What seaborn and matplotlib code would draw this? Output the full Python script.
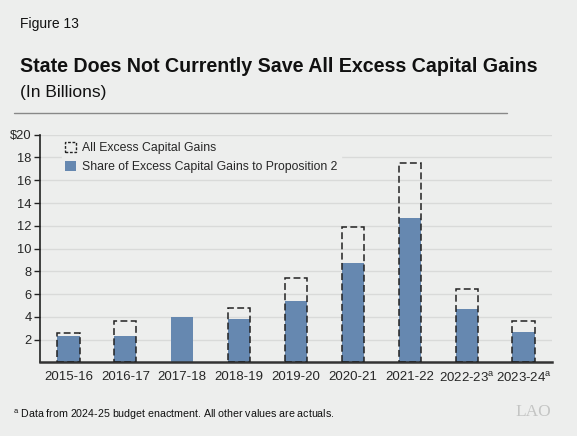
import matplotlib
matplotlib.use("Agg")
import matplotlib.pyplot as plt
import seaborn as sns
import numpy as np
import pandas as pd
from matplotlib.patches import Patch

# values (billions of dollars)
years = ["2015-16", "2016-17", "2017-18", "2018-19", "2019-20",
         "2020-21", "2021-22", "2022-23", "2023-24"]
tick_labels = ["2015-16", "2016-17", "2017-18", "2018-19", "2019-20",
               "2020-21", "2021-22", "2022-23$^{\\mathrm{a}}$", "2023-24$^{\\mathrm{a}}$"]
all_excess = [2.55, 3.66, 3.95, 4.75, 7.38, 11.92, 17.55, 6.44, 3.60]
prop2_share = [2.34, 2.31, 3.95, 3.81, 5.39, 8.70, 12.68, 4.72, 2.67]

BG = "#edeeed"
BLUE = "#6688b0"

sns.set_theme(style="white")
plt.rcParams["font.family"] = ["Liberation Sans", "DejaVu Sans"]
plt.rcParams["mathtext.fontset"] = "custom"
plt.rcParams["mathtext.rm"] = "Liberation Sans"

df = pd.DataFrame({"year": years, "total": all_excess, "share": prop2_share})
# the dashed outline only shows where part of the gains was not saved
df["unsaved_total"] = np.where(df["total"] > df["share"], df["total"], np.nan)

fig = plt.figure(figsize=(5.77, 4.36), dpi=100, facecolor=BG)
ax = fig.add_axes([0.0693, 0.169, 0.8874, 0.522])
ax.set_facecolor(BG)

for v in range(2, 21, 2):
    ax.axhline(v, color="#d9dad9", lw=1.0, zorder=0)

sns.barplot(data=df, x="year", y="share", color=BLUE, width=0.39,
            saturation=1, edgecolor="none", ax=ax, zorder=2)
sns.barplot(data=df, x="year", y="unsaved_total", fill=False, width=0.39,
            edgecolor="#222222", linewidth=1.1, linestyle=(0, (4.5, 2.2)),
            ax=ax, zorder=3)

ax.set_xlim(-0.5, 8.5)
ax.set_ylim(0, 20)
ax.set_yticks(range(2, 21, 2))
ax.set_yticklabels([str(v) if v < 20 else "$20" for v in range(2, 21, 2)])
ax.set_xticks(range(len(years)))
ax.set_xticklabels(tick_labels)
ax.set_xlabel("")
ax.set_ylabel("")
ax.tick_params(axis="y", length=4, width=1, color="#222222", labelsize=9.3,
               pad=2, left=True)
ax.tick_params(axis="x", length=0, labelsize=9.5, pad=6)
for side in ["top", "right"]:
    ax.spines[side].set_visible(False)
ax.spines["left"].set_color("#222222")
ax.spines["left"].set_linewidth(1.2)
ax.spines["bottom"].set_color("#333333")
ax.spines["bottom"].set_linewidth(1.8)

handles = [Patch(facecolor="none", edgecolor="#222222", linestyle=(0, (2, 1.2)), linewidth=1),
           Patch(facecolor=BLUE, edgecolor="none")]
leg = ax.legend(handles, ["All Excess Capital Gains",
                          "Share of Excess Capital Gains to Proposition 2"],
                loc="upper left", bbox_to_anchor=(0.035, 1.0), frameon=True,
                facecolor=BG, edgecolor=BG, framealpha=1, fontsize=8.8,
                handlelength=0.85, handleheight=0.85, handletextpad=0.55,
                labelspacing=0.55, borderpad=0.3, borderaxespad=0.3)
leg.set_zorder(5)

fig.text(0.035, 0.935, "Figure 13", fontsize=10, color="#111111")
fig.text(0.035, 0.835, "State Does Not Currently Save All Excess Capital Gains",
         fontsize=14.15, fontweight="bold", color="#111111")
fig.text(0.035, 0.777, "(In Billions)", fontsize=12.5, color="#111111")
fig.add_artist(plt.Line2D([0.024, 0.879], [0.741, 0.741], color="#888888", lw=1))

fig.text(0.022, 0.042, "$^{\\mathrm{a}}$ Data from 2024-25 budget enactment. All other values are actuals.",
         fontsize=7.7, color="#111111")
fig.text(0.893, 0.045, "LAO", fontsize=12.5, family="Liberation Serif", color="#c4c5c4")

fig.savefig("out.png", dpi=100, facecolor=BG)
